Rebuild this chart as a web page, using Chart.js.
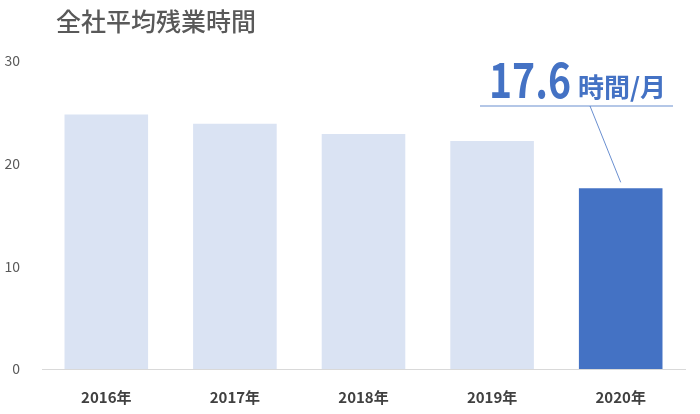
<!DOCTYPE html>
<html>
<head>
<meta charset="utf-8">
<script src="https://cdn.jsdelivr.net/npm/chart.js@4/dist/chart.umd.min.js"></script>
<style>
  html, body { margin: 0; padding: 0; background: #fff; }
  #wrap { width: 700px; height: 414px; position: relative; }
</style>
</head>
<body>
<div id="wrap"><canvas id="chart"></canvas></div>
<script>
const titleText = "全社平均残業時間";
const years = ["2016年", "2017年", "2018年", "2019年", "2020年"];
const hours = [24.8, 23.9, 22.9, 22.2, 17.6];
const yTicks = [0, 10, 20, 30];
const calloutValue = "17.6";
const calloutUnit = "時間/月";

const JP = '"Noto Sans CJK JP", "Noto Sans", sans-serif';
const barColors = hours.map((v, i) => i == hours.length - 1 ? "#4472C4" : "#DAE3F3");

// title + callout drawn over the chart
const extras = {
  id: "extras",
  afterDraw(chart) {
    const ctx = chart.ctx;
    ctx.save();
    ctx.fillStyle = "#595959";
    ctx.font = "500 25px " + JP;
    ctx.textBaseline = "middle";
    ctx.textAlign = "left";
    ctx.fillText(titleText, 56, 21);

    // callout text, big digits squeezed a bit
    ctx.fillStyle = "#4472C4";
    ctx.textBaseline = "alphabetic";
    ctx.font = "bold 48px " + JP;
    let w = ctx.measureText(calloutValue).width;
    ctx.save();
    ctx.translate(489, 98);
    ctx.scale(82 / w, 1);
    ctx.fillText(calloutValue, 0, 0);
    ctx.restore();
    ctx.font = "bold 26px " + JP;
    ctx.fillText(calloutUnit, 578, 97);

    // underline
    ctx.strokeStyle = "#B4C7E7";
    ctx.lineWidth = 2;
    ctx.beginPath();
    ctx.moveTo(480, 106);
    ctx.lineTo(673, 106);
    ctx.stroke();

    // leader to the last bar
    const bar = chart.getDatasetMeta(0).data[hours.length - 1];
    ctx.strokeStyle = "#4472C4";
    ctx.lineWidth = 0.8;
    ctx.beginPath();
    ctx.moveTo(590, 106);
    ctx.lineTo(bar.x, bar.y - 6);
    ctx.stroke();
    ctx.restore();
  }
};

new Chart(document.getElementById("chart"), {
  type: "bar",
  data: {
    labels: years,
    datasets: [{
      data: hours,
      backgroundColor: barColors,
      borderWidth: 0,
      categoryPercentage: 1,
      barPercentage: 0.65
    }]
  },
  options: {
    responsive: true,
    maintainAspectRatio: false,
    animation: false,
    layout: { padding: { top: 61, right: 15, left: 0, bottom: 0 } },
    plugins: { legend: { display: false }, tooltip: { enabled: false } },
    scales: {
      x: {
        grid: { display: false },
        border: { display: true, color: "#D9D9D9", width: 1 },
        ticks: { color: "#404040", font: { family: JP, size: 15, weight: "bold" }, padding: 11 },
        afterFit: s => { s.height = 45; }
      },
      y: {
        min: 0,
        max: 30,
        afterBuildTicks: s => { s.ticks = yTicks.map(v => ({ value: v })); },
        grid: { display: false },
        border: { display: false },
        ticks: { color: "#595959", font: { family: JP, size: 14 }, padding: 14 },
        afterFit: s => { s.width = 42; }
      }
    }
  },
  plugins: [extras]
});
</script>
</body>
</html>
